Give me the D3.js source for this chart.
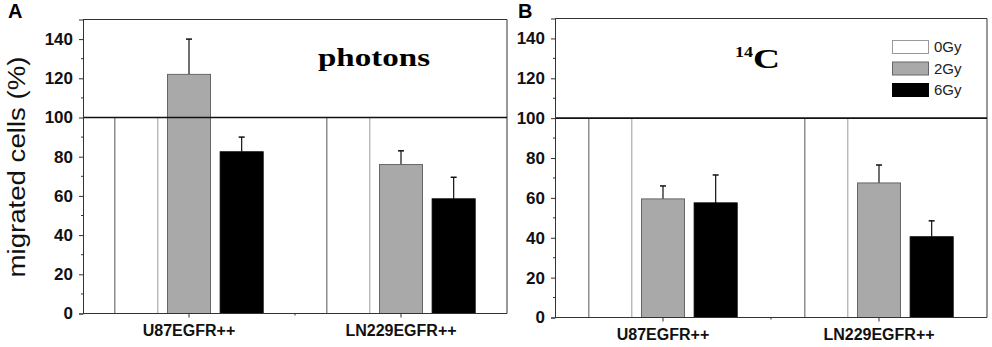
<!DOCTYPE html>
<html><head><meta charset="utf-8">
<script src="https://cdn.jsdelivr.net/npm/d3@7"></script>
<style>body{margin:0;background:#fff}svg{display:block}</style>
</head><body>
<svg id="c" width="992" height="347"></svg>
<script>
const categories = ["U87EGFR++", "LN229EGFR++"];
const series = ["0Gy", "2Gy", "6Gy"];
const yTicks = [0, 20, 40, 60, 80, 100, 120, 140];
// panel A (photons)
const photonsU87 = [100, 122, 82.5];
const photonsLN229 = [100, 76, 58.5];
const photonsErrU87 = [0, 18, 7.5];
const photonsErrLN229 = [0, 7, 11];
// panel B (14C)
const carbonU87 = [100, 59.5, 57.5];
const carbonLN229 = [100, 67.5, 40.5];
const carbonErrU87 = [0, 6.5, 14];
const carbonErrLN229 = [0, 9, 8];

const fills = {"0Gy": "#ffffff", "2Gy": "#a9a9a9", "6Gy": "#000000"};
const strokes = {"0Gy": "#888", "2Gy": "#666", "6Gy": "#000"};

const svg = d3.select("#c");

function panel(opt) {
  const {x0, x1, yTop, yBot, vals, errs, letter, letterX} = opt;
  const g = svg.append("g");
  const x = d3.scaleBand().domain(categories).range([x0, x1]);
  const inner = d3.scaleBand().domain(series).range([-79, 79]).paddingInner(0.165).paddingOuter(0.0825);
  const y = d3.scaleLinear().domain([0, 150]).range([yBot, yTop]);

  // frame
  g.append("path").attr("d", `M${x0},${y(150)}H${x1}V${yBot}`).attr("fill", "none").attr("stroke", "#333").attr("stroke-width", 1);

  // bars
  categories.forEach((c, ci) => {
    series.forEach((s, si) => {
      const v = vals[ci][si];
      const bx = x(c) + x.bandwidth() / 2 + inner(s);
      const bw = inner.bandwidth();
      if (s === "0Gy") {
        g.append("line").attr("x1", bx + 0.5).attr("x2", bx + 0.5).attr("y1", y(v)).attr("y2", yBot).attr("stroke", "#555");
        g.append("line").attr("x1", bx + bw - 0.5).attr("x2", bx + bw - 0.5).attr("y1", y(v)).attr("y2", yBot).attr("stroke", "#999");
      } else {
        const e = errs[ci][si];
        const cx = bx + bw / 2;
        g.append("line").attr("x1", cx).attr("x2", cx).attr("y1", y(v)).attr("y2", y(v + e)).attr("stroke", "#111").attr("stroke-width", 1.2);
        g.append("line").attr("x1", cx - 3).attr("x2", cx + 3).attr("y1", y(v + e)).attr("y2", y(v + e)).attr("stroke", "#111").attr("stroke-width", 1.5);
        g.append("rect").attr("x", bx + 0.5).attr("y", y(v)).attr("width", bw - 1).attr("height", yBot - y(v))
          .attr("fill", fills[s]).attr("stroke", strokes[s]).attr("stroke-width", 1);
      }
    });
  });

  // 100 reference line
  g.append("line").attr("x1", x0).attr("x2", x1).attr("y1", y(100)).attr("y2", y(100)).attr("stroke", "#111").attr("stroke-width", 1.6);

  // y axis
  const ya = d3.axisLeft(y).tickValues(yTicks).tickSize(4).tickPadding(6);
  const yg = g.append("g").attr("transform", `translate(${x0},0)`).call(ya);
  yg.select(".domain").attr("stroke", "#333");
  yg.selectAll(".tick line").attr("stroke", "#333");
  yg.selectAll("text").attr("font-family", "Arial, 'Liberation Sans', sans-serif").attr("font-size", 17).attr("font-weight", "bold").attr("fill", "#111");
  const minorY = d3.range(10, 150, 20);
  g.selectAll(".my").data(minorY).enter().append("line").attr("x1", x0 - 2).attr("x2", x0).attr("y1", d => y(d)).attr("y2", d => y(d)).attr("stroke", "#333");

  // x axis
  const xa = d3.axisBottom(x).tickSize(4).tickPadding(7);
  const xg = g.append("g").attr("transform", `translate(0,${yBot})`).call(xa);
  xg.select(".domain").attr("stroke", "#333").attr("d", `M${x0},0H${x1}`);
  xg.selectAll(".tick line").attr("stroke", "#333");
  xg.selectAll("text").attr("font-family", "Arial, 'Liberation Sans', sans-serif").attr("font-size", 16).attr("font-weight", "bold").attr("fill", "#111");
  g.append("line").attr("x1", (x0 + x1) / 2).attr("x2", (x0 + x1) / 2).attr("y1", yBot).attr("y2", yBot + 2).attr("stroke", "#333");

  // panel letter
  g.append("text").attr("x", letterX).attr("y", 18).text(letter)
    .attr("font-family", "Arial, 'Liberation Sans', sans-serif").attr("font-size", 20).attr("font-weight", "bold");
  return {g, x, y};
}

const A = panel({x0: 83, x1: 507, yTop: 19.5, yBot: 313.5, vals: [photonsU87, photonsLN229], errs: [photonsErrU87, photonsErrLN229], letter: "A", letterX: 8});
const B = panel({x0: 555, x1: 987, yTop: 18.5, yBot: 317.5, vals: [carbonU87, carbonLN229], errs: [carbonErrU87, carbonErrLN229], letter: "B", letterX: 518});

// y label
svg.append("text").attr("transform", "translate(25,167) rotate(-90)").attr("text-anchor", "middle")
  .attr("font-family", "Arial, 'Liberation Sans', sans-serif").attr("font-size", 23).attr("fill", "#111")
  .attr("textLength", 221).attr("lengthAdjust", "spacingAndGlyphs").text("migrated cells (%)");

// panel titles
svg.append("text").attr("x", 318).attr("y", 66).attr("font-family", "'Liberation Serif', 'Times New Roman', serif")
  .attr("font-weight", "bold").attr("font-size", 26).attr("textLength", 112).attr("lengthAdjust", "spacingAndGlyphs").text("photons");
const t14 = svg.append("text").attr("font-family", "'Liberation Serif', 'Times New Roman', serif").attr("font-weight", "bold");
t14.append("tspan").attr("x", 735).attr("y", 57).attr("font-size", 15).attr("textLength", 18).attr("lengthAdjust", "spacingAndGlyphs").text("14");
t14.append("tspan").attr("x", 753).attr("y", 68).attr("font-size", 27).attr("textLength", 27).attr("lengthAdjust", "spacingAndGlyphs").text("C");

// legend
const lg = svg.append("g");
series.forEach((s, i) => {
  const yy = 40 + i * 21.5;
  lg.append("rect").attr("x", 892.5).attr("y", yy + 0.5).attr("width", 36).attr("height", 13)
    .attr("fill", fills[s]).attr("stroke", s === "0Gy" ? "#999" : strokes[s]);
  lg.append("text").attr("x", 934).attr("y", yy + 12).text(s)
    .attr("font-family", "Arial, 'Liberation Sans', sans-serif").attr("font-size", 15).attr("fill", "#222");
});
</script>
</body></html>
